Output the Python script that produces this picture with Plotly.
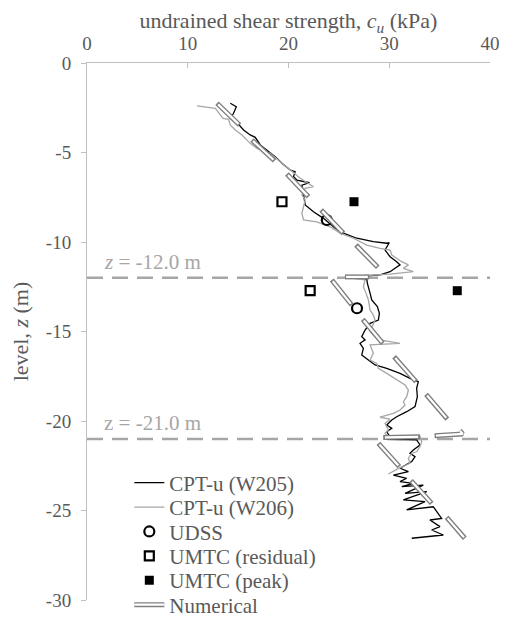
import plotly.graph_objects as go
import numpy as np

# ---- data ----
w205_cu = [14.22, 14.82, 14.55, 14.22, 14.95, 15.54, 16.2, 16.7, 17.2, 17.86, 18.68, 19.35, 20.17, 20.66, 20.5, 20.83,
           22.08, 21.33, 21.49, 21.66, 22.48, 23.47, 24.63, 25.45, 26.78, 28.42, 29.75, 30.0, 29.58, 30.08, 30.74, 31.07,
           30.57, 30.08, 29.09, 26.78, 25.79, 27.77, 27.83, 28.1, 28.26, 28.82, 29.02, 28.92, 28.1, 27.6, 27.27, 27.6,
           27.1, 27.43, 27.27, 27.93, 28.59, 29.75, 31.07, 32.06, 32.88, 32.72, 32.79, 32.56, 31.73, 30.74, 30.25,
           29.75, 30.25, 29.75, 30.08, 32.72, 29.75, 32.72, 33.05, 32.39, 32.06, 32.56, 32.23, 31.07, 31.9, 30.41,
           31.73, 31.07, 32.39, 31.24, 33.38, 31.57, 33.72, 31.4, 33.55, 31.73, 34.37, 35.2, 34.04, 35.03, 34.21,
           35.36, 32.23]
w205_z = [-2.25, -2.44, -2.81, -3.09, -3.37, -3.74, -4.02, -4.15, -4.58, -4.86, -5.23, -5.6, -5.98, -6.07, -6.35, -6.54,
          -6.69, -6.82, -7.28, -7.93, -8.31, -8.68, -9.23, -9.51, -9.79, -9.98, -10.07, -10.04, -10.45, -10.82, -11.1, -11.28,
          -11.47, -11.66, -11.84, -11.94, -11.97, -12.07, -12.31, -12.87, -13.24, -13.61, -13.98, -14.36, -14.54, -14.92,
          -15.29, -15.47, -15.66, -15.94, -16.31, -16.59, -16.87, -17.06, -17.34, -17.62, -17.8, -18.17, -18.64, -19.2,
          -19.48, -19.76, -19.94, -20.22, -20.41, -20.6, -20.88, -20.97, -21.02, -21.06, -21.34, -21.62, -21.8, -21.99,
          -22.27, -22.64, -22.83, -23.02, -23.2, -23.39, -23.48, -23.67, -23.58, -24.04, -23.95, -24.41, -24.5, -24.97,
          -24.79, -25.44, -25.53, -25.9, -26.09, -26.37, -26.55]

w206_cu = [10.92, 12.74, 13.5, 14.05, 14.22, 14.72, 15.38, 16.2, 16.87, 18.19, 19.18, 20.17, 21.16, 22.48, 21.65, 21.33,
           21.65, 21.49, 21.33, 21.49, 22.81, 24.13, 25.12, 26.44, 27.77, 29.09, 30.08, 30.25, 30.74, 31.24, 31.9, 31.4,
           32.39, 30.08, 26.78, 25.62, 27.6, 27.43, 27.7, 27.93, 28.1, 28.42, 28.59, 28.27, 28.1, 28.59, 29.09, 31.07,
           28.1, 28.42, 28.1, 28.76, 28.92, 29.75, 30.74, 31.57, 31.9, 31.73, 31.4, 31.57, 31.07, 30.41, 29.09, 30.08,
           29.58, 29.91, 29.58, 30.08, 32.23, 29.75, 33.05, 33.22, 33.05, 32.72, 32.23, 31.9, 32.06, 30.74, 29.91]
w206_z = [-2.39, -2.53, -3.09, -3.15, -3.46, -3.74, -4.02, -4.49, -4.77, -5.05, -5.51, -5.98, -6.44, -6.91, -7.0, -7.37,
          -7.65, -8.03, -8.4, -8.77, -8.87, -9.15, -9.51, -9.79, -10.17, -10.35, -10.45, -10.73, -10.91, -11.1, -11.28, -11.47,
          -11.66, -11.79, -11.9, -11.97, -12.12, -12.5, -12.87, -13.24, -13.8, -14.08, -14.36, -14.73, -15.01, -15.29, -15.47, -15.66,
          -15.75, -16.22, -16.59, -16.78, -17.06, -17.34, -17.71, -17.99, -18.27, -18.64, -18.92, -19.11, -19.39, -19.57, -19.79, -19.9,
          -20.13, -20.5, -20.69, -20.97, -20.88, -20.88, -20.84, -21.16, -21.44, -21.72, -21.8, -22.08, -22.36, -22.7, -22.96]

udss_cu = [23.8, 26.8]
udss_z = [-8.77, -13.7]
umtc_res_cu = [19.35, 22.15]
umtc_res_z = [-7.75, -12.72]
umtc_peak_cu = [26.5, 36.75]
umtc_peak_z = [-7.75, -12.72]

# numerical profile pieces (None separates pieces)
num_cu = [12.9, 15.14, None, 16.37, 18.61, None, 19.84, 21.98, None, 23.24, 25.45, None, 26.7, 28.86, None,
          28.0, 25.6, None, 24.3, 26.28, None, 27.37, 29.36, None, 30.48, 32.66, None, 33.65, 35.76, None,
          37.0, 37.3, 34.5, None, 33.05, 29.4, None, 28.92, 31.0, None, 32.16, 34.21, None, 35.7, 37.5]
num_z = [-2.25, -3.46, None, -4.30, -5.46, None, -6.20, -7.47, None, -8.21, -9.51, None, -10.17, -11.41, None,
         -11.95, -11.95, None, -12.12, -13.52, None, -14.32, -15.66, None, -16.41, -17.80, None, -18.51, -19.89, None,
         -20.55, -20.72, -20.82, None, -20.88, -20.92, None, -21.25, -22.55, None, -23.33, -24.6, None, -25.38, -26.55]

layer_z = [-12.0, -21.0]
layer_labels = ["<i>z</i> = -12.0 m", "z = -21.0 m"]

x_ticks = [0, 10, 20, 30, 40]
y_ticks = [0, -5, -10, -15, -20, -25, -30]
y_ticktext = ["0", "-5", "-10", "-15", "-20", "-25", "-30"]

FONT = "Liberation Serif"
TXT = "#595959"

# page body has an 8px offset, so the figure is drawn 8px smaller and margins reduced accordingly
OFF = 8
W, H = 507 - OFF, 617 - OFF
ML, MT, MR, MB = 86.5 - OFF, 63 - OFF, 17, 17
PLOT_H = H - MT - MB


def shrink(xs, ys, f=0.05):
    """inner white core of each numerical piece, slightly shorter so the grey outline closes the ends"""
    ox, oy = [], []
    piece = []
    for x, y in list(zip(xs, ys)) + [(None, None)]:
        if x is None:
            if piece:
                p = np.array(piece, dtype=float)
                a, b = p[0].copy(), p[-1].copy()
                p[0] = a + f * (p[1] - a)
                p[-1] = b + f * (p[-2] - b)
                ox += list(p[:, 0]) + [None]
                oy += list(p[:, 1]) + [None]
            piece = []
        else:
            piece.append((x, y))
    return ox, oy


fig = go.Figure()

# layer boundary lines
for zl in layer_z:
    fig.add_trace(go.Scatter(x=[0, 40], y=[zl, zl], mode="lines", showlegend=False, hoverinfo="skip",
                             line=dict(color="#a6a6a6", width=2.5, dash="16px,9px")))

fig.add_trace(go.Scatter(x=w205_cu, y=w205_z, mode="lines", name="CPT-u (W205)", legend="legend",
                         line=dict(color="black", width=1.3)))
fig.add_trace(go.Scatter(x=w206_cu, y=w206_z, mode="lines", name="CPT-u (W206)", legend="legend2",
                         line=dict(color="#a6a6a6", width=1.3)))
fig.add_trace(go.Scatter(x=udss_cu, y=udss_z, mode="markers", name="UDSS", legend="legend3",
                         marker=dict(symbol="circle-open", size=10, color="black", line=dict(width=2.2))))
fig.add_trace(go.Scatter(x=umtc_res_cu, y=umtc_res_z, mode="markers", name="UMTC (residual)", legend="legend4",
                         marker=dict(symbol="square-open", size=9, color="black", line=dict(width=2.2))))
fig.add_trace(go.Scatter(x=umtc_peak_cu, y=umtc_peak_z, mode="markers", name="UMTC (peak)", legend="legend5",
                         marker=dict(symbol="square", size=9, color="black")))

fig.add_trace(go.Scatter(x=num_cu, y=num_z, mode="lines", name="Numerical", legend="legend6",
                         line=dict(color="#7f7f7f", width=5), connectgaps=False))
icx, icy = shrink(num_cu, num_z)
fig.add_trace(go.Scatter(x=icx, y=icy, mode="lines", name=" ", legend="legend7", hoverinfo="skip",
                         line=dict(color="white", width=2.2), connectgaps=False))

for zl, lab in zip(layer_z, layer_labels):
    fig.add_annotation(x=1.5, y=zl, text=lab, showarrow=False, xanchor="left", yanchor="bottom", yshift=2,
                       font=dict(family=FONT, size=21, color="#a6a6a6"))

# legend rows (page pixel y of each row centre)
legend_rows = [483, 507.4, 531.8, 556.2, 580.6, 605, 605]
legend_names = ["legend", "legend2", "legend3", "legend4", "legend5", "legend6", "legend7"]
plot_bottom_px = OFF + H - MB
legends = {}
for name, ypx in zip(legend_names, legend_rows):
    legends[name] = dict(x=0.105, y=(plot_bottom_px - ypx) / PLOT_H, xanchor="left", yanchor="middle",
                         bgcolor="rgba(0,0,0,0)", font=dict(family=FONT, size=21, color=TXT), itemwidth=30)

fig.update_layout(
    width=W, height=H,
    margin=dict(l=ML, r=MR, t=MT, b=MB, autoexpand=False),
    paper_bgcolor="white", plot_bgcolor="white",
    font=dict(family=FONT, size=19, color=TXT),
    showlegend=True,
    xaxis=dict(side="top", range=[0, 40], tickvals=x_ticks, ticks="inside", ticklen=5, tickcolor="#bfbfbf",
               showline=True, linecolor="#bfbfbf", linewidth=1, showgrid=False, zeroline=False, automargin=False,
               ticklabelstandoff=4,
               title=dict(text="undrained shear strength, <i>c<sub>u</sub></i> (kPa)", standoff=10,
                          font=dict(family=FONT, size=22, color=TXT)),
               tickfont=dict(family=FONT, size=19, color=TXT)),
    yaxis=dict(range=[-30, 0], tickvals=y_ticks, ticktext=y_ticktext, ticks="outside", ticklen=5, tickcolor="#bfbfbf",
               showline=True, linecolor="#bfbfbf", linewidth=1, showgrid=False, zeroline=False, automargin=False,
               ticklabelstandoff=6,
               title=dict(text="level, <i>z</i> (m)", standoff=14, font=dict(family=FONT, size=22, color=TXT)),
               tickfont=dict(family=FONT, size=19, color=TXT)),
    **legends,
)

fig.write_html("out.html")
